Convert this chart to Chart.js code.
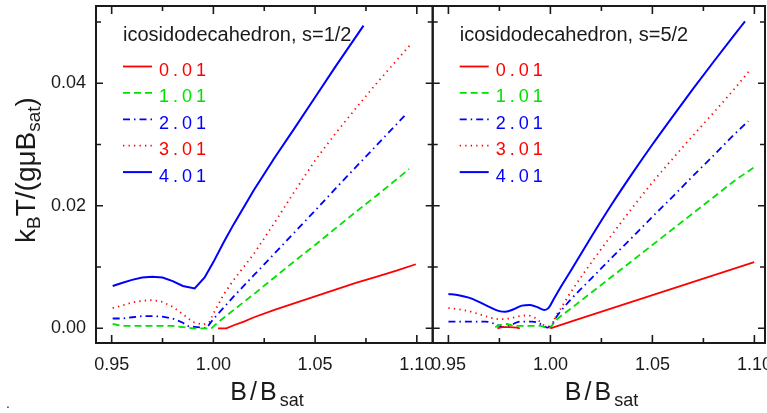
<!DOCTYPE html>
<html>
<head>
<meta charset="utf-8">
<script src="https://cdn.jsdelivr.net/npm/chart.js@4.4.1/dist/chart.umd.min.js"></script>
<style>
  body { margin: 0; background: #fff; }
  #wrap { position: relative; width: 767px; height: 413px; }
  #wrap canvas { position: absolute; left: 0; top: 0; }
</style>
</head>
<body>
<div id="wrap">
  <canvas id="leftChart" width="767" height="413"></canvas>
  <canvas id="rightChart" width="767" height="413"></canvas>
</div>
<script>
// Series labels (same for both panels)
const seriesLabels = ['0.01', '1.01', '2.01', '3.01', '4.01'];

// Axis ticks
const xTickValues = [0.95, 0.975, 1.00, 1.025, 1.05, 1.075, 1.10];
const xTickLabels = ['0.95', '', '1.00', '', '1.05', '', '1.10'];
const yTickValues = [0, 0.01, 0.02, 0.03, 0.04, 0.05];
const yTickLabels = ['0.00', '', '0.02', '', '0.04', ''];

// s = 1/2
const half001X = [1.0023, 1.0064, 1.010, 1.015, 1.020, 1.030, 1.040, 1.050, 1.060, 1.070, 1.080, 1.090, 1.0995];
const half001Y = [0, 0, 0.0005, 0.0011, 0.0018, 0.0030, 0.0041, 0.0052, 0.0063, 0.0074, 0.0084, 0.0094, 0.01045];
const half101X = [0.9505, 0.955, 0.960, 0.970, 0.980, 0.985, 0.990, 0.995, 0.999, 1.002, 1.010, 1.020, 1.030, 1.040, 1.050, 1.060, 1.070, 1.080, 1.090, 1.0962];
const half101Y = [0.0007, 0.0004, 0.0004, 0.0004, 0.0004, 0.0002, 0.0000, 0.0000, 0.0000, 0.0009, 0.0030, 0.0056, 0.0083, 0.0110, 0.0136, 0.0163, 0.0190, 0.0216, 0.0243, 0.0260];
const half201X = [0.9505, 0.955, 0.960, 0.965, 0.970, 0.975, 0.980, 0.985, 0.988, 0.992, 0.9965, 1.000, 1.010, 1.020, 1.030, 1.040, 1.050, 1.060, 1.070, 1.080, 1.090, 1.0946];
const half201Y = [0.0016, 0.0016, 0.0018, 0.0020, 0.0020, 0.0019, 0.0016, 0.0009, 0.0003, 0.0002, 0.0000, 0.0015, 0.0052, 0.0087, 0.0122, 0.0157, 0.0192, 0.0228, 0.0263, 0.0298, 0.0333, 0.0349];
const half301X = [0.9505, 0.955, 0.960, 0.965, 0.970, 0.975, 0.980, 0.985, 0.990, 0.995, 0.998, 1.000, 1.005, 1.010, 1.020, 1.030, 1.040, 1.050, 1.060, 1.070, 1.080, 1.090, 1.0974];
const half301Y = [0.0033, 0.0037, 0.0042, 0.0045, 0.0046, 0.0043, 0.0035, 0.0023, 0.0010, 0.0006, 0.0010, 0.0024, 0.0055, 0.0079, 0.0122, 0.0172, 0.0224, 0.0274, 0.0318, 0.0359, 0.0399, 0.0437, 0.0465];
const half401X = [0.9505, 0.955, 0.960, 0.965, 0.970, 0.975, 0.980, 0.985, 0.9908, 0.9957, 1.000, 1.005, 1.010, 1.020, 1.030, 1.040, 1.050, 1.060, 1.0738];
const half401Y = [0.0069, 0.0074, 0.0079, 0.0083, 0.0084, 0.0083, 0.0077, 0.0069, 0.0065, 0.0083, 0.0108, 0.0140, 0.0170, 0.0226, 0.0278, 0.0327, 0.0377, 0.0427, 0.0494];

// s = 5/2
const five001X = [0.974, 0.9765, 0.980, 0.9835, 0.985, 0.992, 1.000, 1.0999];
const five001Y = [0, 0.0002, 0.0002, 0.0001, 0, null, 0, 0.0108];
const five101X = [0.973, 0.976, 0.9786, 0.982, 0.990, 0.995, 0.999, 1.003, 1.010, 1.020, 1.030, 1.040, 1.050, 1.060, 1.070, 1.080, 1.090, 1.0995];
const five101Y = [0.0002, 0.0006, 0.0007, 0.0004, 0.0004, 0.0004, 0.0000, 0.0014, 0.0032, 0.0058, 0.0084, 0.0110, 0.0136, 0.0162, 0.0188, 0.0214, 0.0240, 0.0262];
const five201X = [0.950, 0.960, 0.968, 0.973, 0.977, 0.981, 0.985, 0.991, 0.9965, 0.9985, 1.000, 1.003, 1.010, 1.020, 1.030, 1.040, 1.050, 1.060, 1.070, 1.080, 1.090, 1.097];
const five201Y = [0.0011, 0.0011, 0.0011, 0.0007, 0.0002, 0.0006, 0.0011, 0.0011, 0.0005, 0.0001, 0.0003, 0.0019, 0.0047, 0.0081, 0.0115, 0.0148, 0.0182, 0.0215, 0.0249, 0.0282, 0.0316, 0.0338];
const five301X = [0.950, 0.955, 0.960, 0.965, 0.970, 0.975, 0.980, 0.985, 0.989, 0.993, 0.997, 1.000, 1.003, 1.005, 1.010, 1.020, 1.030, 1.040, 1.050, 1.060, 1.070, 1.080, 1.090, 1.0979];
const five301Y = [0.0033, 0.0031, 0.0028, 0.0023, 0.0018, 0.0015, 0.0016, 0.0020, 0.0021, 0.0016, 0.0005, 0.0003, 0.0022, 0.0032, 0.0059, 0.0107, 0.0152, 0.0196, 0.0238, 0.0277, 0.0315, 0.0352, 0.0390, 0.0422];
const five401X = [0.950, 0.955, 0.960, 0.965, 0.970, 0.975, 0.978, 0.982, 0.986, 0.990, 0.994, 0.997, 0.999, 1.002, 1.005, 1.010, 1.020, 1.030, 1.040, 1.050, 1.060, 1.070, 1.080, 1.090, 1.0954];
const five401Y = [0.0056, 0.0054, 0.0050, 0.0043, 0.0035, 0.0028, 0.0027, 0.0031, 0.0037, 0.0038, 0.0034, 0.0030, 0.0033, 0.0050, 0.0067, 0.0094, 0.0149, 0.0202, 0.0252, 0.0300, 0.0346, 0.0391, 0.0435, 0.0478, 0.0501];

const RED = 'rgb(255,0,0)';
const GREEN = 'rgb(0,225,0)';
const BLUE = 'rgb(0,0,255)';
const INK = '#1a1a1a';
const FONT = '"Liberation Sans", Arial, sans-serif';

function points(xs, ys) {
    return xs.map((x, i) => ({ x: x, y: ys[i] }));
}

function buildDatasets(sets, smooth) {
    const styles = [
        { color: RED, dash: [] },
        { color: GREEN, dash: [7, 4] },
        { color: BLUE, dash: [7, 4, 1.5, 4] },
        { color: RED, dash: [1.3, 4.2] },
        { color: BLUE, dash: [] }
    ];
    return sets.map((s, i) => ({
        label: seriesLabels[i],
        data: points(s[0], s[1]),
        borderColor: styles[i].color,
        borderDash: styles[i].dash,
        borderWidth: i === 4 ? 2 : 1.8,
        pointRadius: 0,
        fill: false,
        spanGaps: false,
        tension: 0,
        cubicInterpolationMode: smooth ? 'monotone' : 'default'
    }));
}

function tickIndex(list, v) {
    return list.findIndex(t => Math.abs(t - v) < 1e-9);
}

// Frame box with inward ticks on all four sides
const frameTicks = {
    id: 'frameTicks',
    afterDatasetsDraw(chart) {
        const { ctx, chartArea: a, scales: { x, y } } = chart;
        ctx.save();
        ctx.strokeStyle = INK;
        ctx.lineWidth = 2;
        ctx.strokeRect(a.left, a.top, a.right - a.left, a.bottom - a.top);
        ctx.lineWidth = 1.6;
        ctx.beginPath();
        xTickValues.forEach((v, i) => {
            const px = x.getPixelForValue(v);
            const len = xTickLabels[i] ? 8 : 5;
            ctx.moveTo(px, a.bottom); ctx.lineTo(px, a.bottom - len);
            ctx.moveTo(px, a.top); ctx.lineTo(px, a.top + len);
        });
        yTickValues.forEach((v, i) => {
            const py = y.getPixelForValue(v);
            const len = yTickLabels[i] ? 7 : 5;
            ctx.moveTo(a.left, py); ctx.lineTo(a.left + len, py);
            ctx.moveTo(a.right, py); ctx.lineTo(a.right - len, py);
        });
        ctx.stroke();
        ctx.restore();
    }
};

// Text with subscripts: parts = [text, size, baseline shift]
function drawRich(ctx, parts, x, y, gap) {
    let cx = x;
    parts.forEach(p => {
        ctx.font = p[1] + 'px ' + FONT;
        ctx.fillText(p[0], cx, y + (p[2] || 0));
        cx += ctx.measureText(p[0]).width + (gap || 0);
    });
}

// In-panel legend and axis titles
const panelText = {
    id: 'panelText',
    afterDraw(chart, args, opts) {
        const { ctx, chartArea: a } = chart;
        ctx.save();
        ctx.fillStyle = INK;
        ctx.textBaseline = 'alphabetic';
        ctx.textAlign = 'left';
        ctx.font = '20px ' + FONT;
        ctx.fillText(opts.title, a.left + 27, a.top + 35);

        chart.data.datasets.forEach((ds, i) => {
            const yy = a.top + 60.5 + i * 26.4;
            ctx.strokeStyle = ds.borderColor;
            ctx.lineWidth = ds.borderWidth;
            ctx.setLineDash(ds.borderDash);
            ctx.beginPath();
            ctx.moveTo(a.left + 27, yy);
            ctx.lineTo(a.left + 56, yy);
            ctx.stroke();
            ctx.setLineDash([]);
            ctx.fillStyle = ds.borderColor;
            ctx.font = '18px ' + FONT;
            ctx.letterSpacing = '4px';
            ctx.fillText(ds.label, a.left + 63, yy + 9.5);
            ctx.letterSpacing = '0px';
        });

        // x-axis title B/B_sat
        ctx.fillStyle = INK;
        const cx = (a.left + a.right) / 2 - 34;
        drawRich(ctx, [['B', 25], ['/', 25], ['B', 25], ['sat', 18, 6]], cx, 400, 3);

        // y-axis title on the left panel only
        if (opts.yTitle) {
            ctx.save();
            ctx.translate(35, 243);
            ctx.rotate(-Math.PI / 2);
            drawRich(ctx, [['k', 28], ['B', 19, 5], ['T/(gμB', 28], ['sat', 19, 5], [')', 28]], 0, 0, 0);
            ctx.restore();
            ctx.font = '14px ' + FONT;
            ctx.fillText('.', 6, 408);
        }
        ctx.restore();
    }
};

function makePanel(id, sets, cfg) {
    const ctx = document.getElementById(id).getContext('2d');
    return new Chart(ctx, {
        type: 'line',
        data: { datasets: buildDatasets(sets, cfg.smooth) },
        options: {
            responsive: false,
            animation: false,
            devicePixelRatio: 1,
            layout: { autoPadding: false, padding: cfg.padding },
            plugins: {
                legend: { display: false },
                tooltip: { enabled: false },
                panelText: { title: cfg.title, yTitle: cfg.yTitle }
            },
            scales: {
                x: {
                    type: 'linear',
                    min: 0.9423,
                    max: cfg.xMax,
                    grid: { display: false, drawTicks: false },
                    border: { display: false },
                    afterBuildTicks: s => {
                        s.ticks = xTickValues.filter((v, i) => xTickLabels[i]).map(v => ({ value: v }));
                    },
                    afterFit: s => {
                        s.height = 70;
                        s.paddingLeft = 0;
                        s.paddingRight = 0;
                    },
                    ticks: {
                        autoSkip: false,
                        maxRotation: 0,
                        padding: 11,
                        color: INK,
                        font: { family: FONT, size: 18 },
                        callback: v => xTickLabels[tickIndex(xTickValues, v)]
                    }
                },
                y: {
                    type: 'linear',
                    display: cfg.yTitle,
                    min: -0.0024,
                    max: 0.0526,
                    grid: { display: false, drawTicks: false },
                    border: { display: false },
                    afterBuildTicks: s => {
                        s.ticks = yTickValues.filter((v, i) => yTickLabels[i]).map(v => ({ value: v }));
                    },
                    afterFit: s => {
                        s.width = cfg.yTitle ? 96 : 0;
                        s.paddingTop = 0;
                        s.paddingBottom = 0;
                    },
                    ticks: {
                        padding: 10,
                        color: INK,
                        font: { family: FONT, size: 18 },
                        callback: v => yTickLabels[tickIndex(yTickValues, v)]
                    }
                }
            }
        },
        plugins: [frameTicks, panelText]
    });
}

makePanel('leftChart', [
    [half001X, half001Y], [half101X, half101Y], [half201X, half201Y], [half301X, half301Y], [half401X, half401Y]
], {
    title: 'icosidodecahedron, s=1/2',
    yTitle: true,
    smooth: false,
    xMax: 1.1078,
    padding: { left: 0, top: 6, right: 334.3, bottom: 0 }
});

makePanel('rightChart', [
    [five001X, five001Y], [five101X, five101Y], [five201X, five201Y], [five301X, five301Y], [five401X, five401Y]
], {
    title: 'icosidodecahedron, s=5/2',
    yTitle: false,
    smooth: true,
    xMax: 1.1052,
    padding: { left: 432.7, top: 6, right: 2, bottom: 0 }
});
</script>
</body>
</html>
